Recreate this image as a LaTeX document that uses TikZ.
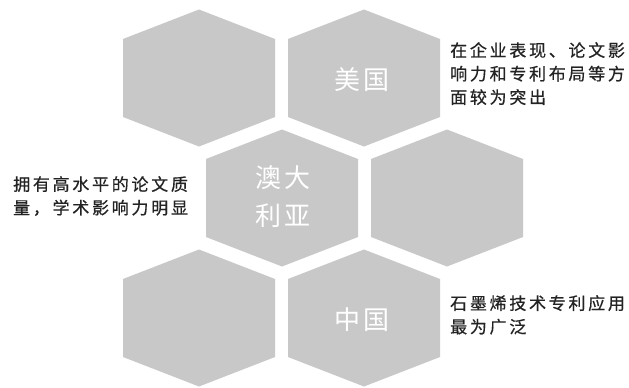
\documentclass[tikz,border=0pt]{standalone}
\usepackage{fontspec}
\newfontfamily\cjk{Noto Sans CJK SC}
\newfontfamily\cjksp[LetterSpace=16,FakeBold=0.6]{Noto Sans CJK SC}
\newfontfamily\cjkhex[LetterSpace=8]{Noto Sans CJK SC}
\definecolor{hexgray}{RGB}{200,200,200}
\definecolor{txtgray}{RGB}{35,35,35}
\tikzset{
  hexfill/.style={fill=hexgray},
  hexlabel/.style={text=white, font=\cjkhex\fontsize{26}{40}\selectfont, align=center, inner sep=0pt},
  sidetext/.style={text=txtgray, font=\cjksp\fontsize{17}{23.5}\selectfont, align=left, inner sep=0pt, anchor=north west}
}
\begin{document}
\begin{tikzpicture}[x=1pt,y=-1pt]
\useasboundingbox (0,0) rectangle (629,388);
\fill[white] (0,0) rectangle (629,388);
% hexagon centres
\coordinate (h1) at (199,78);
\coordinate (h2) at (364,78);
\coordinate (h3) at (282,198);
\coordinate (h4) at (447,198);
\coordinate (h5) at (199,318);
\coordinate (h6) at (364,318);
\foreach \h in {h1,h2,h3,h4,h5,h6}{
  \fill[hexfill] (\h) ++(0,-68.5) -- ++(76,29.5) -- ++(0,78) -- ++(-76,29.5) -- ++(-76,-29.5) -- ++(0,-78) -- cycle;
}
\node[hexlabel] (lus) at (362,80) {美国};
\node[hexlabel] (lau) at (283,197) {澳大\\[-2pt]利亚};
\node[hexlabel] (lcn) at (362,320) {中国};
\node[sidetext] (tus) at (450,42) {在企业表现、论文影\\响力和专利布局等方\\面较为突出};
\node[sidetext] (tau) at (13,176) {拥有高水平的论文质\\量，学术影响力明显};
\node[sidetext] (tcn) at (450,295) {石墨烯技术专利应用\\最为广泛};
\end{tikzpicture}
\end{document}
